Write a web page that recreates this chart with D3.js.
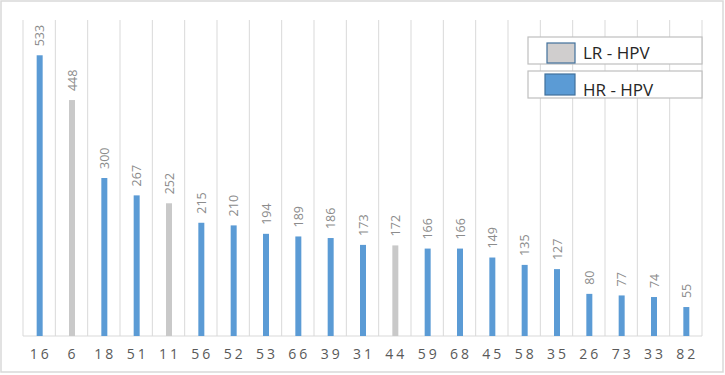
<!DOCTYPE html>
<html>
<head>
<meta charset="utf-8">
<script src="https://cdn.jsdelivr.net/npm/d3@7"></script>
<style>
  body { margin: 0; background: #fff; }
  text { font-family: "Open Sans", "DejaVu Sans", sans-serif; }
</style>
</head>
<body>
<script>
var types = ['16', '6', '18', '51', '11', '56', '52', '53', '66', '39', '31', '44', '59', '68', '45', '58', '35', '26', '73', '33', '82'];
var counts = [533, 448, 300, 267, 252, 215, 210, 194, 189, 186, 173, 172, 166, 166, 149, 135, 127, 80, 77, 74, 55];
var lowRisk = ['6', '11', '44'];
var legendLabels = ['LR - HPV', 'HR - HPV'];

(function() {
    var W = 725, H = 375;
    var plotLeft = 23, plotRight = 702, plotTop = 20, plotBottom = 336;

    var svg = d3.select('body').append('svg')
        .attr('width', W)
        .attr('height', H);

    svg.append('rect')
        .attr('x', 1).attr('y', 1)
        .attr('width', W - 3).attr('height', H - 4)
        .attr('fill', '#fff')
        .attr('stroke', '#d9d9d9')
        .attr('stroke-width', 1.5);

    var x = d3.scaleBand().domain(types).range([plotLeft, plotRight]);
    var y = d3.scaleLinear().domain([0, 600]).range([plotBottom, plotTop]);

    // vertical grid at category edges
    var edges = types.map(function(d) { return x(d); }).concat([plotRight]);
    svg.selectAll('line.grid')
        .data(edges)
        .enter().append('line')
        .attr('class', 'grid')
        .attr('x1', function(d) { return d; })
        .attr('x2', function(d) { return d; })
        .attr('y1', plotTop).attr('y2', plotBottom)
        .attr('stroke', '#d9d9d9')
        .attr('stroke-width', 1);

    svg.append('line')
        .attr('x1', plotLeft).attr('x2', plotRight)
        .attr('y1', plotBottom).attr('y2', plotBottom)
        .attr('stroke', '#d9d9d9');

    var data = types.map(function(t, i) {
        return { type: t, value: counts[i], low: lowRisk.indexOf(t) >= 0 };
    });

    var barW = 6;
    svg.selectAll('rect.bar')
        .data(data)
        .enter().append('rect')
        .attr('class', 'bar')
        .attr('x', function(d) { return x(d.type) + x.bandwidth() / 2 - barW / 2 + 0.5; })
        .attr('y', function(d) { return y(d.value); })
        .attr('width', barW)
        .attr('height', function(d) { return plotBottom - y(d.value); })
        .attr('fill', function(d) { return d.low ? '#c9c9c9' : '#5b9bd5'; });

    // value labels, rotated
    svg.selectAll('text.val')
        .data(data)
        .enter().append('text')
        .attr('class', 'val')
        .attr('transform', function(d) {
            var cx = x(d.type) + x.bandwidth() / 2 + 5;
            return 'translate(' + cx + ',' + (y(d.value) - 9) + ') rotate(-90)';
        })
        .attr('font-size', 12.5)
        .attr('fill', '#8c8c8c')
        .text(function(d) { return d.value; });

    // x axis labels
    svg.selectAll('text.cat')
        .data(types)
        .enter().append('text')
        .attr('class', 'cat')
        .attr('x', function(d) { return x(d) + x.bandwidth() / 2 + 1.5; })
        .attr('y', 359)
        .attr('text-anchor', 'middle')
        .attr('font-size', 14)
        .attr('letter-spacing', 3)
        .attr('fill', '#595959')
        .text(function(d) { return d; });

    // legend
    var legend = svg.selectAll('g.legend')
        .data(legendLabels)
        .enter().append('g')
        .attr('class', 'legend')
        .attr('transform', function(d, i) { return 'translate(528,' + (37 + i * 34) + ')'; });

    legend.append('rect')
        .attr('width', 174).attr('height', 27)
        .attr('fill', '#fff')
        .attr('stroke', '#bfbfbf')
        .attr('stroke-width', 1.2);

    legend.append('rect')
        .attr('x', function(d, i) { return i ? 17 : 19; })
        .attr('y', function(d, i) { return i ? 3 : 6; })
        .attr('width', function(d, i) { return i ? 30 : 28; })
        .attr('height', function(d, i) { return i ? 21 : 20; })
        .attr('fill', function(d, i) { return i ? '#5b9bd5' : '#d0cece'; })
        .attr('stroke', '#41719c')
        .attr('stroke-width', 1.2);

    legend.append('text')
        .attr('x', 55)
        .attr('y', function(d, i) { return i ? 25 : 22; })
        .attr('font-size', 17)
        .attr('fill', '#262626')
        .text(function(d) { return d; });
}());
</script>
</body>
</html>
